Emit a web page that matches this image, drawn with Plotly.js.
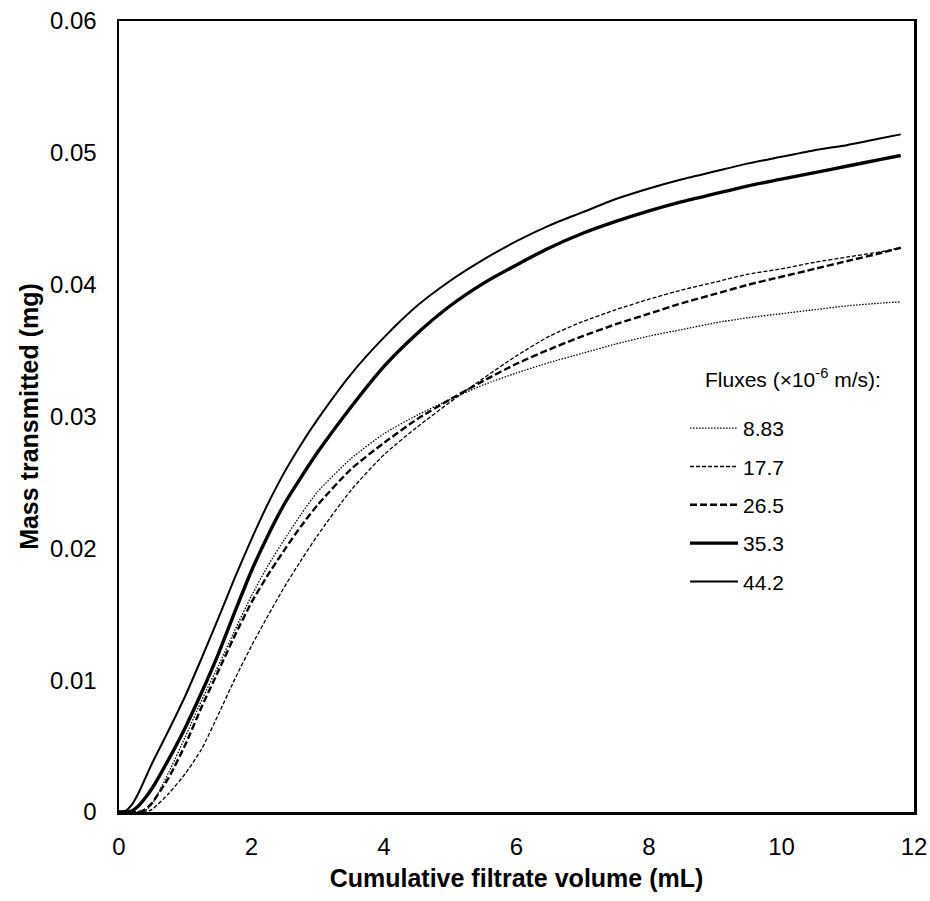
<!DOCTYPE html>
<html>
<head>
<meta charset="utf-8">
<script src="https://cdn.plot.ly/plotly-3.0.1.min.js"></script>
<style>html,body{margin:0;padding:0;background:#fff;}#chart{width:930px;height:901px;}</style>
</head>
<body>
<div id="chart"></div>
<script>
// Cumulative filtrate volume (mL)
const volume = [0, 0.1, 0.2, 0.3, 0.4, 0.5, 0.75, 1.0, 1.25, 1.5, 1.75, 2.0, 2.25, 2.5, 2.75, 3.0, 3.5, 4.0, 4.5, 5.0, 5.5, 6.0, 6.5, 7.0, 7.5, 8.0, 8.5, 9.0, 9.5, 10.0, 10.5, 11.0, 11.5, 11.8];

// Mass transmitted (mg) for each flux (x10^-6 m/s)
const flux_8_83 = [0, 0, 0, 0, 0.0001, 0.0006, 0.0030, 0.0057, 0.0085, 0.0111, 0.0138, 0.0164, 0.0187, 0.0207, 0.0226, 0.0243, 0.0268, 0.0287, 0.0301, 0.0313, 0.0324, 0.0333, 0.0341, 0.0348, 0.0355, 0.0361, 0.0366, 0.0371, 0.0375, 0.0378, 0.0381, 0.0384, 0.0386, 0.0387];
const flux_17_7 = [0, 0, 0, 0, 0, 0.0002, 0.0014, 0.0029, 0.0048, 0.0074, 0.0101, 0.0126, 0.0149, 0.0171, 0.0191, 0.0210, 0.0244, 0.0271, 0.0292, 0.0311, 0.0329, 0.0346, 0.0361, 0.0372, 0.0381, 0.0389, 0.0396, 0.0402, 0.0408, 0.0412, 0.0417, 0.0421, 0.0425, 0.0428];
const flux_26_5 = [0, 0, 0, 0, 0.0002, 0.0007, 0.0026, 0.0051, 0.0080, 0.0107, 0.0134, 0.0159, 0.0180, 0.0199, 0.0217, 0.0233, 0.0260, 0.0280, 0.0298, 0.0313, 0.0327, 0.0340, 0.0351, 0.0361, 0.0370, 0.0378, 0.0386, 0.0393, 0.0400, 0.0406, 0.0412, 0.0418, 0.0424, 0.0428];
const flux_35_3 = [0, 0, 0.0001, 0.0005, 0.0011, 0.0018, 0.0040, 0.0064, 0.0091, 0.0120, 0.0152, 0.0183, 0.0210, 0.0234, 0.0254, 0.0273, 0.0307, 0.0338, 0.0363, 0.0384, 0.0401, 0.0415, 0.0428, 0.0439, 0.0448, 0.0456, 0.0463, 0.0469, 0.0475, 0.0480, 0.0485, 0.0490, 0.0495, 0.0498];
const flux_44_2 = [0, 0.0001, 0.0006, 0.0015, 0.0026, 0.0037, 0.0062, 0.0088, 0.0117, 0.0147, 0.0178, 0.0207, 0.0234, 0.0258, 0.0279, 0.0298, 0.0332, 0.0360, 0.0384, 0.0403, 0.0419, 0.0433, 0.0445, 0.0455, 0.0465, 0.0473, 0.0480, 0.0486, 0.0492, 0.0497, 0.0502, 0.0506, 0.0511, 0.0514];

const seriesNames = ['8.83', '17.7', '26.5', '35.3', '44.2'];
const seriesValues = [flux_8_83, flux_17_7, flux_26_5, flux_35_3, flux_44_2];
const legendTitle = 'Fluxes (×10<sup>-6</sup> m/s):';
const styles = [
  {width: 1.3, dash: '1.5px,1.5px'},
  {width: 1.3, dash: '4px,2px'},
  {width: 2.4, dash: '7px,3px'},
  {width: 3.4, dash: 'solid'},
  {width: 2.0, dash: 'solid'}
];

const traces = seriesNames.map((n, i) => ({
  x: volume, y: seriesValues[i], type: 'scatter', mode: 'lines', name: n,
  legendgroup: 'g' + i,
  line: {color: '#000', width: styles[i].width, dash: styles[i].dash, shape: 'spline', smoothing: 0.6}
}));

const fam = 'Liberation Sans, Arial, sans-serif';

const layout = {
  width: 930, height: 901,
  margin: {l: 119, r: 16, t: 21, b: 89},
  paper_bgcolor: '#fff', plot_bgcolor: '#fff',
  font: {family: fam, color: '#000'},
  showlegend: true,
  legend: {
    x: 0.712, y: 0.5107, xanchor: 'left', yanchor: 'top',
    bgcolor: 'rgba(0,0,0,0)',
    font: {family: fam, size: 21, color: '#000'},
    tracegroupgap: 8,
    itemwidth: 30
  },
  annotations: [{
    xref: 'paper', yref: 'paper', x: 0.7346, y: 0.5487, xanchor: 'left', yanchor: 'middle',
    text: legendTitle, showarrow: false, font: {family: fam, size: 21, color: '#000'}
  }],
  xaxis: {
    range: [0, 12], dtick: 2, tick0: 0,
    showgrid: false, zeroline: false,
    showline: true, mirror: true, linecolor: '#000', linewidth: 2.5,
    ticks: '', ticklabelstandoff: 12,
    tickfont: {family: fam, size: 24, color: '#000'},
    title: {text: '<b>Cumulative filtrate volume (mL)</b>', font: {family: fam, size: 25, color: '#000'}, standoff: 10}
  },
  yaxis: {
    range: [0, 0.06], dtick: 0.01, tick0: 0,
    showgrid: false, zeroline: false,
    showline: true, mirror: true, linecolor: '#000', linewidth: 2.5,
    ticks: '', ticklabelstandoff: 15,
    tickfont: {family: fam, size: 24, color: '#000'},
    title: {text: '<b>Mass transmitted (mg)</b>', font: {family: fam, size: 25, color: '#000'}, standoff: 4}
  }
};

Plotly.newPlot('chart', traces, layout, {displayModeBar: false, staticPlot: true}).then(function (gd) {
  const leg = gd.querySelector('.legend');
  if (!leg) return;
  leg.querySelectorAll('.scrollbox').forEach(function (s) { s.removeAttribute('clip-path'); });
  leg.querySelectorAll('.legendlines path').forEach(function (p) { p.setAttribute('d', 'M5,0h48'); });
  leg.querySelectorAll('text.legendtext').forEach(function (t) { t.setAttribute('x', '58'); });
});
</script>
</body>
</html>
